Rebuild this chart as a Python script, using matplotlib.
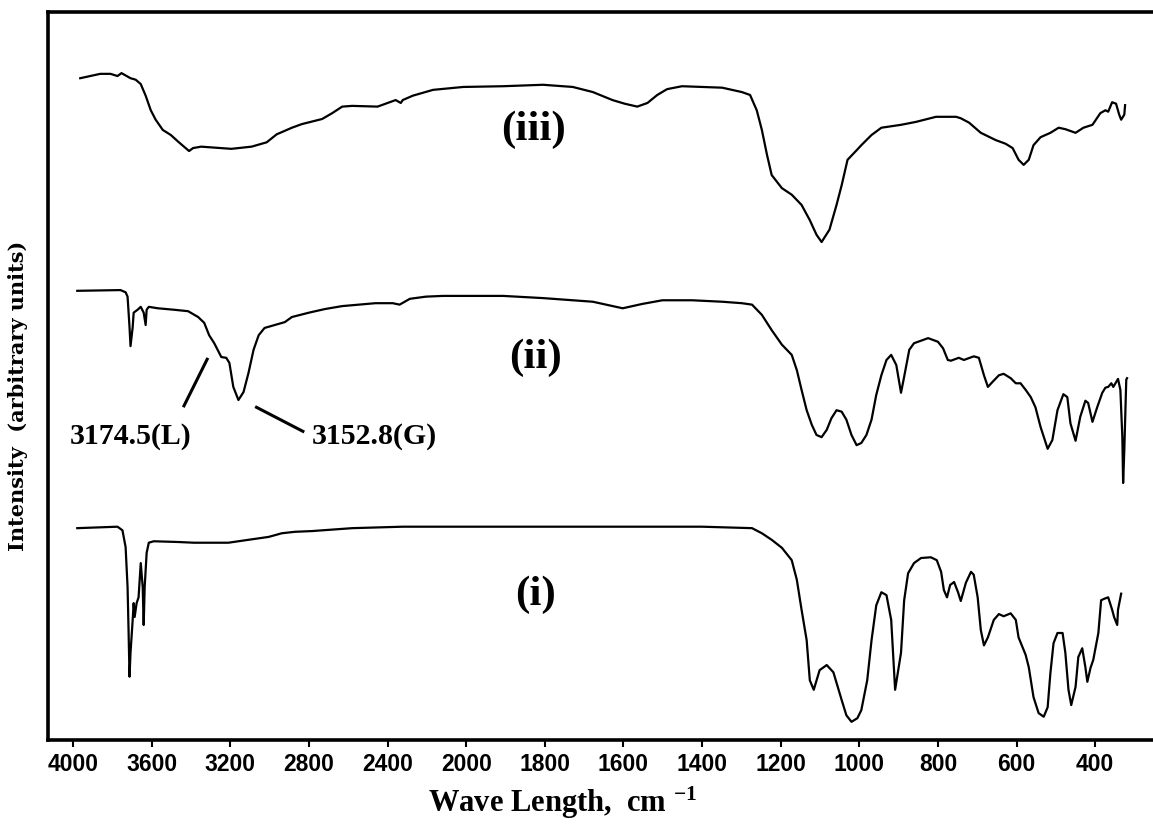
import numpy as np
import matplotlib
matplotlib.use("Agg")
import matplotlib.pyplot as plt

# ---- spectra: wavenumber (cm-1) and stacked intensity (arbitrary units) ----
wn_iii = [3964, 3862, 3810, 3774, 3754, 3708, 3682, 3656, 3631, 3605, 3580, 3544,
          3503, 3462, 3410, 3390, 3349, 3195, 3092, 3015, 2964, 2938, 2887, 2836,
          2733, 2682, 2631, 2580, 2451, 2400, 2359, 2333, 2323, 2272, 2169, 2015,
          1906, 1805, 1729, 1678, 1628, 1597, 1565, 1539, 1514, 1489, 1451, 1400,
          1349, 1299, 1278, 1261, 1248, 1235, 1223, 1197, 1172, 1147, 1126, 1109,
          1096, 1076, 1058, 1045, 1030, 1007, 995, 969, 944, 919, 894, 856, 805,
          754, 742, 721, 691, 653, 628, 610, 595, 582, 569, 557, 539, 514, 493,
          476, 450, 430, 407, 387, 374, 367, 357, 347, 339, 334, 326, 324]
int_iii = [90.9, 91.5, 91.5, 91.2, 91.6, 90.9, 90.7, 90.1, 88.5, 86.5, 85.2, 83.8,
           83.1, 82.1, 80.9, 81.3, 81.5, 81.2, 81.5, 82.1, 83.2, 83.5, 84.1, 84.6,
           85.3, 86.1, 87.0, 87.1, 87.0, 87.5, 87.9, 87.5, 87.9, 88.5, 89.3, 89.7,
           89.8, 90.0, 89.7, 89.0, 87.9, 87.4, 87.0, 87.5, 88.6, 89.4, 89.8, 89.7,
           89.6, 89.0, 88.6, 86.5, 83.8, 80.4, 77.6, 75.8, 74.9, 73.5, 71.4, 69.4,
           68.4, 70.1, 73.5, 76.2, 79.7, 81.0, 81.7, 83.1, 84.1, 84.3, 84.5, 84.9, 85.6,
           85.6, 85.4, 84.8, 83.4, 82.4, 81.9, 81.3, 79.7, 79.0, 79.7, 81.7, 82.8, 83.4, 84.1,
           83.9, 83.4, 84.1, 84.5, 86.1, 86.5, 86.3, 87.6, 87.4, 85.9, 85.2, 85.9, 87.2]

wn_ii = [3979, 3759, 3733, 3723, 3713, 3708, 3697, 3692, 3672, 3656, 3641, 3631,
         3626, 3615, 3569, 3487, 3415, 3364, 3333, 3308, 3282, 3246, 3221, 3205,
         3185, 3159, 3133, 3108, 3082, 3056, 3026, 2974, 2923, 2887, 2800, 2718,
         2631, 2462, 2374, 2339, 2287, 2205, 2118, 2015, 1906, 1805, 1729, 1678,
         1628, 1602, 1552, 1501, 1425, 1349, 1299, 1273, 1248, 1223, 1197, 1172,
         1159, 1147, 1134, 1121, 1109, 1096, 1083, 1071, 1058, 1045, 1033, 1020,
         1007, 995, 982, 969, 957, 944, 931, 919, 906, 894, 886, 873, 861, 825,
         800, 787, 775, 767, 747, 734, 709, 696, 683, 673, 661, 645, 633, 615,
         602, 590, 577, 564, 552, 539, 521, 509, 496, 481, 471, 463, 450, 438,
         425, 418, 407, 395, 382, 374, 367, 359, 354, 342, 336, 331, 329, 326,
         321, 319]
int_ii = [61.7, 61.8, 61.5, 60.9, 56.7, 54.1, 56.7, 58.7, 59.1, 59.5, 58.7, 57.0,
          59.1, 59.5, 59.3, 59.1, 58.9, 58.1, 57.3, 55.6, 54.5, 52.6, 52.5, 51.8,
          48.5, 46.7, 47.8, 50.4, 53.6, 55.6, 56.6, 57.0, 57.4, 58.1, 58.7, 59.2,
          59.6, 60.0, 60.0, 59.8, 60.6, 60.9, 61.0, 61.0, 61.0, 60.7, 60.4, 60.2,
          59.6, 59.3, 59.9, 60.4, 60.4, 60.2, 60.0, 59.8, 58.4, 56.3, 54.3, 52.9,
          50.8, 48.1, 45.3, 43.3, 41.9, 41.6, 42.6, 44.2, 45.3, 45.1, 44.0, 41.9,
          40.5, 40.8, 41.9, 44.0, 47.4, 50.1, 52.2, 52.9, 51.5, 47.7, 49.9, 53.6, 54.5, 55.2,
          54.7, 53.8, 52.2, 52.1, 52.5, 52.2, 52.7, 52.5, 50.1, 48.5, 49.2, 50.1, 50.3, 49.7,
          49.0, 49.0, 48.1, 47.1, 45.7, 43.0, 40.0, 41.2, 45.3, 47.5, 47.1, 43.5, 41.1, 44.4,
          46.6, 46.3, 43.7, 45.7, 47.7, 48.4, 48.5, 49.0, 48.5, 49.6, 48.1, 41.6, 35.3, 39.8,
          49.5, 49.7]

wn_i = [3979, 3774, 3749, 3733, 3723, 3718, 3713, 3708, 3697, 3692, 3687, 3677,
        3667, 3656, 3646, 3641, 3636, 3626, 3615, 3590, 3467, 3385, 3297, 3210,
        3108, 3005, 2938, 2872, 2785, 2580, 2323, 1906, 1653, 1400, 1273, 1248,
        1223, 1197, 1172, 1159, 1147, 1134, 1126, 1116, 1101, 1083, 1066, 1045,
        1033, 1020, 1005, 995, 980, 969, 957, 944, 931, 919, 909, 894, 886, 876,
        861, 843, 818, 803, 792, 785, 777, 769, 759, 749, 742, 729, 716, 709, 699,
        691, 683, 673, 658, 645, 633, 615, 602, 595, 577, 569, 557, 544, 531, 521,
        514, 506, 496, 483, 476, 468, 461, 450, 443, 433, 425, 420, 412, 405, 392,
        385, 377, 367, 357, 352, 344, 342, 334]
int_i = [29.1, 29.3, 28.8, 26.5, 21.0, 15.1, 8.7, 12.0, 16.5, 18.8, 16.9, 18.8,
         19.6, 24.3, 21.0, 15.8, 21.0, 25.7, 27.1, 27.3, 27.2, 27.1, 27.1, 27.1,
         27.5, 27.9, 28.4, 28.6, 28.7, 29.1, 29.3, 29.3, 29.3, 29.3, 29.1, 28.4,
         27.5, 26.4, 24.7, 22.0, 17.9, 13.7, 8.2, 6.9, 9.6, 10.3, 9.3, 5.5,
         3.4, 2.5, 3.0, 4.1, 8.2, 13.7, 18.5, 20.3, 19.9, 16.5, 6.9, 12.0, 19.2, 22.9,
         24.3, 25.0, 25.1, 24.7, 23.1, 20.6, 19.6, 21.3, 21.7, 20.3, 19.1, 21.6, 23.1, 22.7, 19.6,
         15.1, 13.0, 14.1, 16.5, 17.3, 17.0, 17.4, 16.5, 14.1, 11.7, 10.0, 5.9, 3.7, 3.2, 4.5,
         9.2, 13.3, 14.7, 14.7, 12.0, 6.9, 4.8, 7.3, 11.4, 12.6, 10.0, 8.0, 9.9, 11.0, 14.7,
         19.2, 19.4, 19.6, 17.9, 16.9, 15.8, 17.9, 20.1]

tick_values = [4000, 3600, 3200, 2800, 2400, 2000, 1800, 1600, 1400, 1200, 1000, 800, 600, 400]
trace_names = ["(iii)", "(ii)", "(i)"]
peak_labels = ["3174.5(L)", "3152.8(G)"]


# Two-speed wavenumber axis: above 2000 cm-1 the scale is compressed by half
def fwd(x):
    x = np.asarray(x, dtype=float)
    return np.where(x > 2000, 2000 + (x - 2000) / 2.0, x)


def inv(f):
    f = np.asarray(f, dtype=float)
    return np.where(f > 2000, 2000 + 2.0 * (f - 2000), f)


fig = plt.figure(figsize=(11.53, 8.25), dpi=100)
ax = fig.add_axes([0.0416, 0.103, 0.9584, 0.8825])
ax.set_xscale("function", functions=(fwd, inv))

lw = 1.6
ax.plot(wn_iii, int_iii, color="black", lw=lw, solid_joinstyle="round")
ax.plot(wn_ii, int_ii, color="black", lw=lw, solid_joinstyle="round")
ax.plot(wn_i, int_i, color="black", lw=lw, solid_joinstyle="round")

ax.set_xlim(4128, 253)
ax.set_ylim(0, 100)

ax.set_xticks(tick_values)
ax.set_xticklabels([str(v) for v in tick_values])
ax.set_yticks([])
ax.tick_params(axis="x", direction="out", length=5, width=1.5, pad=4)
for lab in ax.get_xticklabels():
    lab.set_fontfamily(["Liberation Sans Narrow", "Liberation Sans"])
    lab.set_fontweight("bold")
    lab.set_fontsize(16.5)

for side in ("left", "bottom", "top"):
    ax.spines[side].set_linewidth(2.6)
ax.spines["right"].set_visible(False)

serif = ["Liberation Serif", "DejaVu Serif"]

# trace labels
ax.text(1830, 83.8, trace_names[0], fontsize=31, fontweight="bold",
        family=serif, ha="center", va="center")
ax.text(1825, 52.5, trace_names[1], fontsize=31, fontweight="bold",
        family=serif, ha="center", va="center")
ax.text(1823, 20.0, trace_names[2], fontsize=31, fontweight="bold",
        family=serif, ha="center", va="center")

# peak annotations
ax.plot([3436, 3318], [45.9, 52.3], color="black", lw=2.2)
ax.plot([3067, 2831], [45.7, 42.4], color="black", lw=2.2)
ax.text(4015, 41.7, peak_labels[0], fontsize=21.5, fontweight="bold",
        family=serif, ha="left", va="center")
ax.text(2785, 41.7, peak_labels[1], fontsize=21.5, fontweight="bold",
        family=serif, ha="left", va="center")

# axis titles
plt.rcParams["mathtext.fontset"] = "custom"
plt.rcParams["mathtext.rm"] = "Liberation Serif:bold"
plt.rcParams["mathtext.it"] = "Liberation Serif:bold"
plt.rcParams["mathtext.bf"] = "Liberation Serif:bold"
fig.text(562 / 1153, 1 - 803 / 825, r"Wave Length,  cm $^{-1}$", fontsize=22,
         fontweight="bold", family=serif, ha="center", va="center")
fig.text(18 / 1153, 1 - 396 / 825, "Intensity  (arbitrary units)", fontsize=15,
         fontweight="bold", family=["DejaVu Serif"], rotation=90,
         ha="center", va="center")

fig.savefig("out.png", dpi=100)
